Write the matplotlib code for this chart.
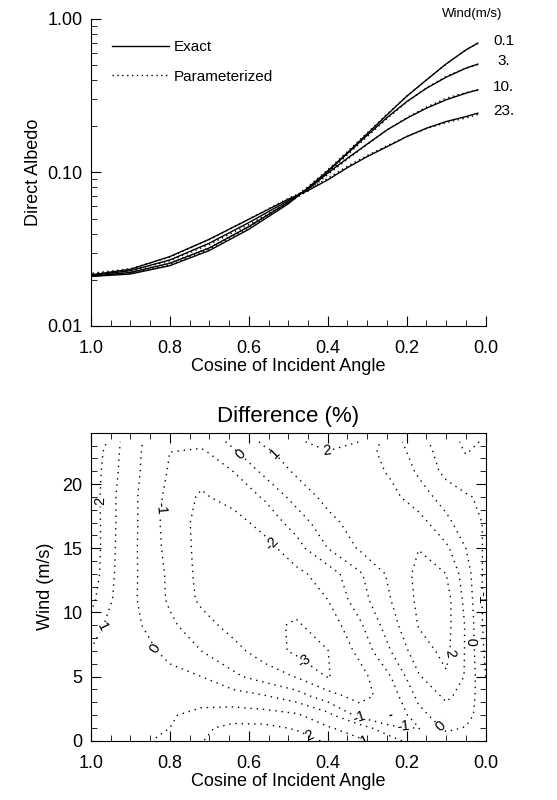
import matplotlib
matplotlib.use('Agg')
import matplotlib.pyplot as plt
import matplotlib.transforms as mtransforms
from matplotlib.ticker import MultipleLocator, FixedLocator, FuncFormatter, LogLocator, NullFormatter
import numpy as np

plt.rcParams['font.family'] = ['Liberation Sans', 'DejaVu Sans']

# Top panel: direct albedo
mu = [0.02, 0.05, 0.1, 0.15, 0.2, 0.25, 0.3, 0.35, 0.4, 0.45, 0.5, 0.6, 0.7, 0.8, 0.9, 1.0]
wind_labels = ['0.1', '3.', '10.', '23.']

exact_w01 = [0.694, 0.628, 0.509, 0.400, 0.313, 0.237, 0.1786, 0.1343, 0.1023, 0.0794, 0.0624, 0.0426, 0.0310, 0.0247, 0.0218, 0.0210]
exact_w3 = [0.507, 0.477, 0.417, 0.353, 0.289, 0.2275, 0.1746, 0.1330, 0.1012, 0.0785, 0.0639, 0.0444, 0.0322, 0.0256, 0.0223, 0.0211]
exact_w10 = [0.345, 0.328, 0.297, 0.262, 0.225, 0.189, 0.153, 0.1237, 0.0989, 0.0777, 0.0655, 0.0471, 0.0346, 0.0269, 0.0229, 0.0213]
exact_w23 = [0.243, 0.231, 0.2144, 0.194, 0.171, 0.147, 0.1268, 0.1075, 0.0894, 0.0761, 0.0669, 0.0495, 0.0367, 0.0283, 0.0234, 0.0215]

param_w01 = [0.692, 0.626, 0.507, 0.400, 0.314, 0.239, 0.181, 0.137, 0.1040, 0.0808, 0.0641, 0.0437, 0.0317, 0.0251, 0.0220, 0.0211]
param_w3 = [0.503, 0.478, 0.421, 0.355, 0.287, 0.224, 0.171, 0.130, 0.0992, 0.0781, 0.0636, 0.0443, 0.0323, 0.0257, 0.0224, 0.0212]
param_w10 = [0.342, 0.331, 0.304, 0.266, 0.227, 0.189, 0.152, 0.122, 0.0966, 0.0756, 0.0635, 0.0458, 0.0339, 0.0266, 0.0230, 0.0218]
param_w23 = [0.238, 0.226, 0.211, 0.193, 0.171, 0.149, 0.1287, 0.1098, 0.0915, 0.0776, 0.0677, 0.0496, 0.0365, 0.0281, 0.0236, 0.0220]

# Bottom panel: difference field (%) on a coarse grid
mu_grid = [1.0, 0.96, 0.92, 0.86, 0.8, 0.72, 0.64, 0.56, 0.48, 0.4, 0.32, 0.24, 0.17, 0.1, 0.05, 0.0]
wind_grid = [0, 1, 2, 3.5, 5, 7, 9, 11, 13, 15, 17, 19, 21, 22.5, 23.3]
diff = [
    [0.6, 0.6, 0.7, 0.9, 1.3, 1.95, 2.6, 2.8, 2.5, 1.85, 1.15, 0.4, -0.6, -0.5, -0.4, -0.35],
    [0.55, 0.55, 0.6, 0.8, 1.0, 1.8, 2.3, 2.25, 1.9, 1.1, 0.5, -0.75, -1.05, 0.2, -0.05, -0.4],
    [0.55, 0.55, 0.6, 0.75, 0.92, 1.25, 1.45, 1.4, 1.15, 0.3, -1.3, -2.05, -0.3, 0.55, 0.3, -0.5],
    [0.6, 0.55, 0.55, 0.6, 0.65, 0.6, 0.4, 0.05, -0.55, -1.6, -2.4, -1.5, 0.25, 1.2, 0.6, -0.7],
    [0.7, 0.6, 0.55, 0.45, 0.3, 0.0, -0.8, -1.45, -2.05, -3.05, -2.4, -1.0, 0.9, 1.9, 0.9, -1.0],
    [0.95, 0.7, 0.5, 0.25, -0.3, -1.0, -1.65, -2.5, -3.2, -3.02, -1.75, 0.0, 1.6, 2.25, 0.9, -1.2],
    [1.7, 0.85, 0.45, -0.1, -0.8, -1.6, -2.35, -2.8, -3.1, -2.6, -1.2, 0.6, 2.05, 2.35, 0.9, -1.35],
    [2.3, 1.3, 0.5, -0.3, -1.15, -2.2, -2.75, -2.9, -2.7, -2.0, -0.45, 1.0, 2.2, 2.4, 0.7, -1.4],
    [2.7, 1.45, 0.55, -0.3, -1.2, -2.3, -2.75, -2.8, -2.25, -1.55, -0.15, 1.25, 2.25, 2.0, 0.45, -1.3],
    [2.8, 1.5, 0.6, -0.35, -1.35, -2.3, -2.65, -2.4, -1.4, 0.0, 1.1, 1.7, 1.98, 1.2, 0.0, -1.2],
    [2.8, 1.5, 0.65, -0.35, -1.45, -2.3, -2.45, -1.6, -0.6, 0.7, 1.45, 1.5, 1.4, 0.25, -0.55, -1.1],
    [2.7, 1.5, 0.65, -0.35, -1.3, -2.15, -1.6, -0.9, 0.4, 1.3, 1.6, 1.3, 0.45, -0.4, -0.9, -1.2],
    [2.6, 1.7, 0.75, -0.25, -1.1, -1.6, -1.0, 0.25, 1.15, 1.6, 1.6, 0.85, -0.15, -1.3, -1.6, -1.5],
    [2.5, 1.85, 0.8, -0.2, -1.0, -1.2, -0.15, 0.8, 1.5, 1.95, 1.5, 0.6, -0.45, -1.5, -2.05, -1.7],
    [2.5, 2.0, 0.85, -0.15, -0.8, -0.65, 0.2, 1.17, 1.83, 2.4, 2.0, 0.46, -0.65, -1.58, -2.2, -1.9],
]
levels = [-3, -2, -1, 0, 1, 2]

fig = plt.figure(figsize=(5.57, 8.0), dpi=100)

# ---- top panel ----
ax1 = fig.add_axes([0.163, 0.5925, 0.709, 0.384])
exact = [exact_w01, exact_w3, exact_w10, exact_w23]
param = [param_w01, param_w3, param_w10, param_w23]
for e, p in zip(exact, param):
    l_exact, = ax1.plot(mu, e, color='k', lw=1.0)
    l_param, = ax1.plot(mu, p, color='k', lw=1.0, linestyle=(0, (1, 2.5)))

ax1.set_yscale('log')
ax1.set_xlim(1.0, 0.0)
ax1.set_ylim(0.01, 1.0)
ax1.spines['top'].set_visible(False)
ax1.spines['right'].set_visible(False)
ax1.xaxis.set_major_locator(MultipleLocator(0.2))
ax1.xaxis.set_minor_locator(MultipleLocator(0.05))
ax1.xaxis.set_major_formatter(FuncFormatter(lambda v, p: '%.1f' % v))
ax1.yaxis.set_major_locator(FixedLocator([0.01, 0.1, 1.0]))
ax1.yaxis.set_minor_locator(LogLocator(subs=np.arange(2, 10)))
ax1.yaxis.set_minor_formatter(NullFormatter())
ax1.yaxis.set_major_formatter(FuncFormatter(lambda v, p: '%.2f' % v))
ax1.tick_params(which='both', direction='in', top=False, right=False, labelsize=13)
ax1.tick_params(which='major', length=7, pad=6)
ax1.tick_params(which='minor', length=4)
ax1.tick_params(axis='x', which='major', pad=10)
ax1.set_xlabel('Cosine of Incident Angle', fontsize=13, labelpad=1)
ax1.set_ylabel('Direct Albedo', fontsize=13, labelpad=4)

ax1.legend([l_exact, l_param], ['Exact', 'Parameterized'], loc='upper left',
           bbox_to_anchor=(0.02, 0.975), frameon=False, fontsize=11,
           handlelength=3.7, handletextpad=0.3, labelspacing=1.0)

# wind speed labels at the right end of the curves
trans = mtransforms.blended_transform_factory(ax1.transAxes, ax1.transData)
for lab, e in zip(wind_labels, exact):
    ax1.text(1.045, e[0] * 1.04, lab, transform=trans, ha='center', va='center',
             fontsize=11, clip_on=False)
ax1.text(0.965, 1.017, 'Wind(m/s)', transform=ax1.transAxes, ha='center',
         va='center', fontsize=9.5)

# ---- bottom panel ----
ax2 = fig.add_axes([0.163, 0.074, 0.709, 0.385])
cs = ax2.contour(mu_grid, wind_grid, np.array(diff), levels=levels,
                 colors='k', linewidths=1.0)
cs.set_linestyle((0, (1, 3.5)))

# where the labels sit on the lines
label_spots = [(0.985, 18.7), (0.85, 18.2), (0.62, 22.3), (0.546, 22.1), (0.40, 22.7),
               (0.525, 15.8), (0.453, 6.5), (0.85, 7.0), (0.98, 9.0), (0.32, 1.9),
               (0.21, 1.0), (0.30, 0.4), (0.445, 0.4), (0.095, 1.7), (0.085, 6.8),
               (0.025, 7.7), (0.02, 11.2)]
ax2.clabel(cs, fmt={lv: '%d' % lv for lv in levels}, fontsize=10.5,
           inline=True, inline_spacing=2, manual=label_spots)
ax2.set_xlim(1.0, 0.0)
ax2.set_ylim(0, 24)
ax2.xaxis.set_major_locator(MultipleLocator(0.2))
ax2.xaxis.set_minor_locator(MultipleLocator(0.05))
ax2.xaxis.set_major_formatter(FuncFormatter(lambda v, p: '%.1f' % v))
ax2.yaxis.set_major_locator(MultipleLocator(5))
ax2.yaxis.set_minor_locator(MultipleLocator(1))
ax2.tick_params(which='both', direction='in', top=True, right=True, labelsize=13)
ax2.tick_params(which='major', length=7, pad=6)
ax2.tick_params(which='minor', length=4)
ax2.tick_params(axis='x', which='major', pad=10)
ax2.set_xlabel('Cosine of Incident Angle', fontsize=13, labelpad=1)
ax2.set_ylabel('Wind (m/s)', fontsize=13, labelpad=6)
ax2.set_title('Difference (%)', fontsize=16, pad=8)

fig.savefig('out.png', dpi=100)
